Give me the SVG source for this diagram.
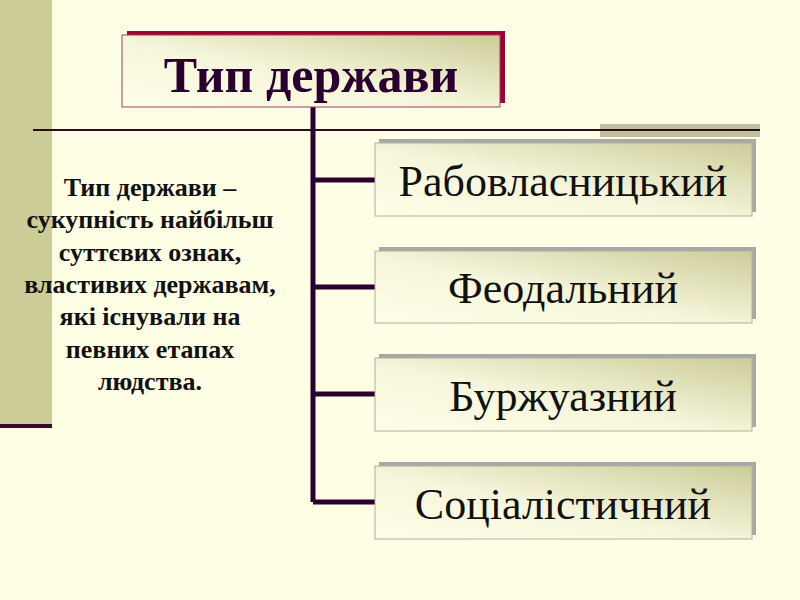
<svg xmlns="http://www.w3.org/2000/svg" width="800" height="600" viewBox="0 0 800 600">
<style>
.box{stroke:#b0b09a;stroke-width:1}
.sh{fill:#a8a8a8}
.lbl{font-family:"Liberation Serif",serif;font-size:44px;fill:#111;text-anchor:middle}
.def{font-family:"Liberation Serif",serif;font-size:26px;font-weight:bold;fill:#111;text-anchor:middle}
.conn{stroke:#2a0030;stroke-width:5;fill:none}
</style>
<defs>
<linearGradient id="g" x1="0" y1="1" x2="1" y2="0">
<stop offset="0" stop-color="#ffffe8"/><stop offset="0.45" stop-color="#f6f6dc"/><stop offset="1" stop-color="#cccc99"/>
</linearGradient>
</defs>
<rect width="800" height="600" fill="#ffffe5"/>
<rect x="0" y="0" width="52" height="425" fill="#cccc99"/>
<rect x="0" y="424" width="52" height="4" fill="#3a0a2a"/>
<rect x="600" y="124" width="160" height="13" fill="#c0c0a0"/>
<line x1="33" y1="130" x2="760" y2="130" stroke="#2a0a20" stroke-width="2"/>
<g id="connectors">
<path class="conn" d="M313 107V502M313 180H375M313 287H375M313 394H375M313 502H375"/>
</g>
<g id="title">
<rect x="127" y="31" width="378" height="72" fill="#a00030"/>
<rect x="122" y="35" width="378" height="72" fill="url(#g)" stroke="#a04050" stroke-width="1"/>
<text x="311" y="92" font-family="Liberation Serif,serif" font-size="50" font-weight="bold" fill="#2a0030" text-anchor="middle">Тип держави</text>
</g>
<g id="n1"><rect class="sh" x="379" y="139" width="377" height="73"/><rect class="box" x="375" y="143" width="377" height="73" fill="url(#g)"/><text class="lbl" x="563" y="196">Рабовласницький</text></g>
<g id="n2"><rect class="sh" x="379" y="247" width="377" height="72"/><rect class="box" x="375" y="251" width="377" height="72" fill="url(#g)"/><text class="lbl" x="563" y="303">Феодальний</text></g>
<g id="n3"><rect class="sh" x="379" y="354" width="377" height="73"/><rect class="box" x="375" y="358" width="377" height="73" fill="url(#g)"/><text class="lbl" x="563" y="411">Буржуазний</text></g>
<g id="n4"><rect class="sh" x="379" y="462" width="377" height="73"/><rect class="box" x="375" y="466" width="377" height="73" fill="url(#g)"/><text class="lbl" x="563" y="519">Соціалістичний</text></g>
<g id="definition">
<text class="def" x="150" y="196">Тип держави –</text>
<text class="def" x="150" y="228">сукупність найбільш</text>
<text class="def" x="150" y="261">суттєвих ознак,</text>
<text class="def" x="150" y="293">властивих державам,</text>
<text class="def" x="150" y="325">які існували на</text>
<text class="def" x="150" y="358">певних етапах</text>
<text class="def" x="150" y="390">людства.</text>
</g>
</svg>
